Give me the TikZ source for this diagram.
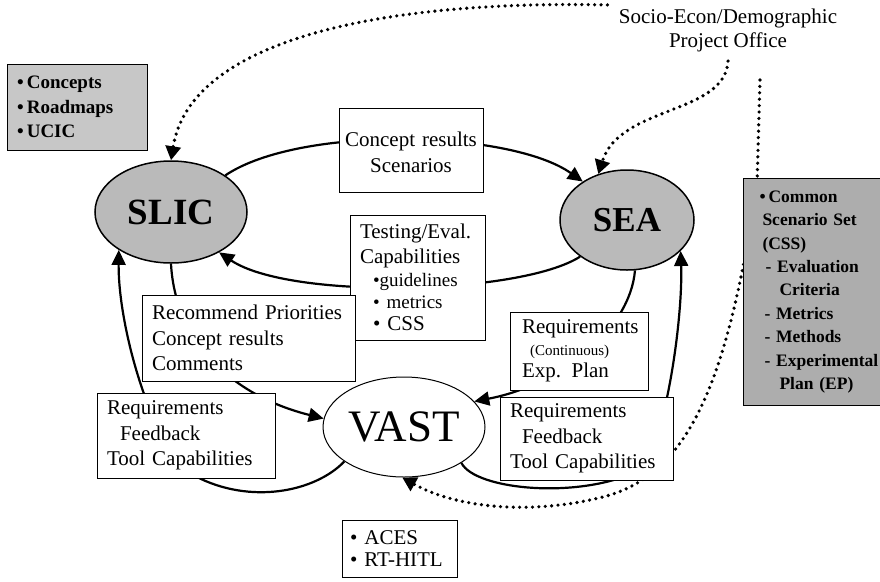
\documentclass[tikz,border=0pt]{standalone}
\usepackage{fontspec}
\setmainfont{Liberation Serif}
\usetikzlibrary{shapes.geometric,arrows.meta}
\begin{document}
\begin{tikzpicture}[x=1pt,y=-1pt,
  wbox/.style={draw, line width=0.9pt, fill=white, align=left, inner ysep=0pt,
    font=\fontsize{21}{25.5}\selectfont},
  gbox/.style={draw, line width=1pt, align=left, inner ysep=0pt,
    font=\bfseries\fontsize{19}{24.5}\selectfont},
  bubble/.style={ellipse, draw, line width=1.5pt, fill=black!27, inner sep=0pt},
  flow/.style={line width=2.2pt, -{Triangle[length=15pt,width=14pt]}},
  dots/.style={line width=3.6pt, line cap=round, dash pattern=on 0pt off 6.4pt,
    -{Triangle[length=14pt,width=15pt]}},
]
\useasboundingbox (0,0) rectangle (880,581);

% ellipses
\node[bubble, minimum width=152pt, minimum height=102pt,
  font=\bfseries\fontsize{37}{40}\selectfont] (slic) at (171,212) {SLIC};
\node[bubble, minimum width=134pt, minimum height=100pt,
  font=\bfseries\fontsize{35}{38}\selectfont] (sea) at (627,220) {SEA};
\node[ellipse, draw, line width=1pt, fill=white, inner sep=0pt,
  minimum width=162pt, minimum height=100pt,
  font=\fontsize{45}{48}\selectfont] (vast) at (404,427) {VAST};

% source label
\node[align=center, font=\fontsize{21}{24}\selectfont] (socio) at (728,30)
  {Socio-Econ/Demographic\\Project Office};
\coordinate (cssdrop) at (760,80);

% solid flows
\draw[flow] (slic.34) .. controls (300,125) and (510,130) .. (sea.139);
\draw[flow] (sea.218) .. controls (520,295) and (290,300) .. (slic.320);
\draw[flow] (slic.270) .. controls (175,340) and (230,395) .. (vast.174);
\draw[flow] (vast.210) .. controls (315,492) and (250,505) .. (195,476)
  .. controls (155,455) and (118,330) .. (slic.216);
\draw[flow] (sea.279) .. controls (630,330) and (560,385) .. (vast.20);
\draw[flow] (vast.328) .. controls (475,490) and (580,500) .. (640,470)
  .. controls (665,445) and (683,320) .. (sea.330);

% dotted flows
\draw[dots] ([xshift=-8pt]socio.north west) .. controls (380,0) and (190,40) .. (slic.90);
\draw[dots] ([yshift=-6pt]socio.south) .. controls (725,115) and (620,105) .. (sea.122);
\draw[dots] (cssdrop) -- (757,185) .. controls (728,380) and (690,470) .. (610,495)
  .. controls (540,515) and (460,510) .. (vast.268);

% boxes
\node[gbox, fill=black!22, minimum width=140pt, minimum height=86pt,
  inner xsep=10pt, text width=120pt] (concepts) at (77,107)
  {•\,Concepts\\•\,Roadmaps\\•\,UCIC};

\node[wbox, align=center, minimum width=144pt, minimum height=84pt,
  inner xsep=5pt, text width=134pt, text depth=21pt] (results) at (411,150)
  {Concept results\\Scenarios};

\node[wbox, minimum width=135pt, minimum height=125pt, inner xsep=10pt,
  text width=115pt, font=\fontsize{21}{25}\selectfont] (testing) at (417.5,277.5)
  {Testing/Eval.\\Capabilities\\[-2pt]
   {\fontsize{19}{22}\selectfont\hspace*{13pt}•guidelines}\\[-3pt]
   {\fontsize{19}{22}\selectfont\hspace*{13pt}• metrics}\\[-3pt]
   \hspace*{13pt}• CSS};

\node[wbox, minimum width=213pt, minimum height=86pt, inner xsep=10pt,
  text width=193pt] (recommend) at (248.5,338)
  {Recommend Priorities\\Concept results\\Comments};

\node[wbox, minimum width=138pt, minimum height=78pt, inner xsep=7pt,
  text width=124pt, font=\fontsize{21}{22}\selectfont] (reqcont) at (579,351)
  {\hspace*{5pt}\mbox{Requirements}\\
   {\fontsize{15}{18}\selectfont\hspace*{13pt}(Continuous)}\\
   \hspace*{5pt}Exp. Plan};

\node[wbox, minimum width=178pt, minimum height=85pt, inner xsep=10pt,
  text width=158pt] (reqleft) at (186,435.5)
  {Requirements\\\hspace*{13pt}Feedback\\Tool Capabilities};

\node[wbox, minimum width=173pt, minimum height=83pt, inner xsep=10pt,
  text width=153pt] (reqright) at (586.5,438.5)
  {Requirements\\\hspace*{12pt}Feedback\\Tool Capabilities};

\node[wbox, minimum width=115pt, minimum height=57pt, inner xsep=8pt,
  text width=99pt, font=\fontsize{21}{22}\selectfont] (aces) at (399.5,548.5)
  {• ACES\\• RT-HITL};

\node[gbox, fill=black!32, anchor=north west, minimum width=150pt,
  minimum height=227pt, inner xsep=13pt, text width=124pt,
  font=\bfseries\fontsize{17.5}{23.4}\selectfont] (css) at (743,178)
  {\hspace*{3pt}•\,Common\\
   \hspace*{6pt}Scenario Set\\
   \hspace*{6pt}(CSS)\\
   \hspace*{9pt}- Evaluation\\
   \hspace*{23pt}Criteria\\
   \hspace*{8pt}- Metrics\\
   \hspace*{8pt}- Methods\\
   \hspace*{8pt}- Experimental\\
   \hspace*{23pt}Plan (EP)};
\end{tikzpicture}
\end{document}
